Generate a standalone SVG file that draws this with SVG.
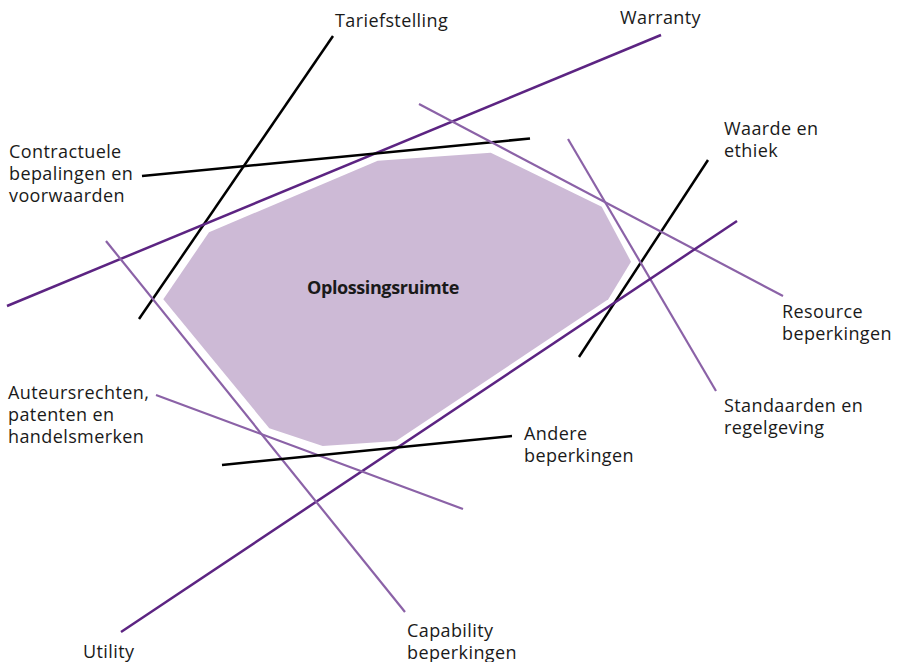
<svg xmlns="http://www.w3.org/2000/svg" width="900" height="662" viewBox="0 0 900 662">
<style>
.lbl{font-family:"Open Sans","Noto Sans","Liberation Sans",sans-serif;font-size:18px;letter-spacing:0.4px;fill:#1a1a1a}
.bold{font-weight:bold;letter-spacing:-0.4px}
.blk{stroke:#000;stroke-width:2.5;fill:none}
.dk{stroke:#5c2482;stroke-width:2.5;fill:none}
.lt{stroke:#8b62a7;stroke-width:2.2;fill:none}
</style>
<rect width="900" height="662" fill="#fff"/>
<g id="oplossingsruimte">
<polygon points="377.7,160.7 490.7,152.7 601.7,206.7 631,261.7 608.3,299.3 396,441 322.7,446 269.3,428.3 163.3,299.3 209,232.3" fill="#cdbad6"/>
<text class="lbl bold" x="307" y="294">Oplossingsruimte</text>
</g>
<g id="connectors">
<line class="blk" x1="333" y1="36" x2="139" y2="319"/>
<line class="dk" x1="661" y1="35" x2="7" y2="306"/>
<line class="blk" x1="142" y1="176" x2="530" y2="138.5"/>
<line class="blk" x1="708" y1="160" x2="579" y2="357"/>
<line class="lt" x1="419" y1="104" x2="783" y2="296"/>
<line class="lt" x1="568" y1="139" x2="716" y2="391"/>
<line class="dk" x1="121" y1="632" x2="737" y2="221"/>
<line class="lt" x1="106" y1="241" x2="405" y2="612"/>
<line class="lt" x1="156" y1="395" x2="463" y2="509"/>
<line class="blk" x1="222" y1="465" x2="512" y2="436"/>
</g>
<g id="tariefstelling"><text class="lbl" x="335" y="27">Tariefstelling</text></g>
<g id="warranty"><text class="lbl" x="620" y="24">Warranty</text></g>
<g id="contractuele"><text class="lbl" x="9" y="158">Contractuele<tspan x="9" y="180">bepalingen en</tspan><tspan x="9" y="202">voorwaarden</tspan></text></g>
<g id="waarde"><text class="lbl" x="724" y="135">Waarde en<tspan x="724" y="157">ethiek</tspan></text></g>
<g id="resource"><text class="lbl" x="782" y="318">Resource<tspan x="782" y="340">beperkingen</tspan></text></g>
<g id="standaarden"><text class="lbl" x="724" y="412">Standaarden en<tspan x="724" y="434">regelgeving</tspan></text></g>
<g id="andere"><text class="lbl" x="524" y="440">Andere<tspan x="524" y="462">beperkingen</tspan></text></g>
<g id="auteursrechten"><text class="lbl" x="8" y="399">Auteursrechten,<tspan x="8" y="421">patenten en</tspan><tspan x="8" y="443">handelsmerken</tspan></text></g>
<g id="utility"><text class="lbl" x="83" y="658">Utility</text></g>
<g id="capability"><text class="lbl" x="407" y="637">Capability<tspan x="407" y="659">beperkingen</tspan></text></g>
</svg>
